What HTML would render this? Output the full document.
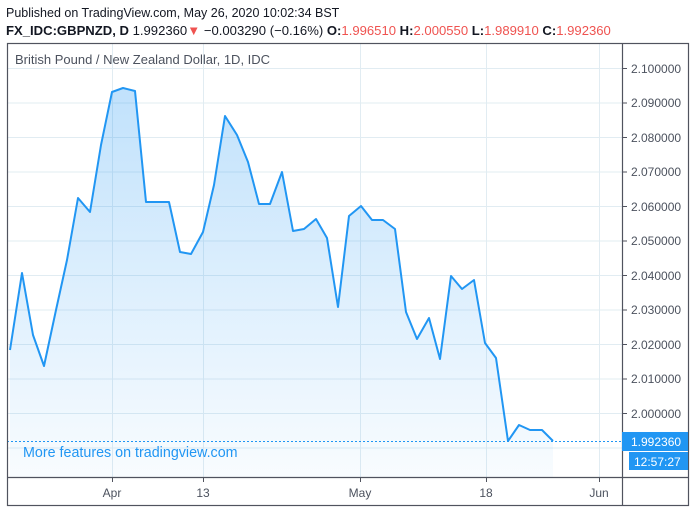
<!DOCTYPE html>
<html><head><meta charset="utf-8"><style>
body{margin:0;background:#fff;width:695px;height:513px;overflow:hidden}
svg text{font-family:"Liberation Sans",sans-serif}
</style></head><body>
<svg width="695" height="513" xmlns="http://www.w3.org/2000/svg">
<defs><linearGradient id="g" x1="0" y1="0" x2="0" y2="1"><stop offset="0" stop-color="#2196f3" stop-opacity="0.28"/><stop offset="1" stop-color="#2196f3" stop-opacity="0.03"/></linearGradient></defs>
<text x="6" y="17" font-size="12.5" fill="#131722">Published on TradingView.com, May 26, 2020 10:02:34 BST</text>
<text x="6" y="35" font-size="13.1" fill="#131722"><tspan font-weight="bold">FX_IDC:GBPNZD, D</tspan> 1.992360<tspan fill="#ef5350">▼</tspan> −0.003290 (−0.16%) <tspan font-weight="bold">O:</tspan><tspan fill="#ef5350">1.996510</tspan> <tspan font-weight="bold">H:</tspan><tspan fill="#ef5350">2.000550</tspan> <tspan font-weight="bold">L:</tspan><tspan fill="#ef5350">1.989910</tspan> <tspan font-weight="bold">C:</tspan><tspan fill="#ef5350">1.992360</tspan></text>
<g stroke="#e1ecf2" stroke-width="1">
<line x1="112.5" y1="43" x2="112.5" y2="477"/><line x1="203.5" y1="43" x2="203.5" y2="477"/><line x1="360.5" y1="43" x2="360.5" y2="477"/><line x1="486.5" y1="43" x2="486.5" y2="477"/><line x1="599.5" y1="43" x2="599.5" y2="477"/>
<line x1="7" y1="68.5" x2="622" y2="68.5"/><line x1="7" y1="103" x2="622" y2="103"/><line x1="7" y1="137.5" x2="622" y2="137.5"/><line x1="7" y1="172" x2="622" y2="172"/><line x1="7" y1="206.5" x2="622" y2="206.5"/><line x1="7" y1="241" x2="622" y2="241"/><line x1="7" y1="275.5" x2="622" y2="275.5"/><line x1="7" y1="310" x2="622" y2="310"/><line x1="7" y1="344.5" x2="622" y2="344.5"/><line x1="7" y1="379" x2="622" y2="379"/><line x1="7" y1="413.5" x2="622" y2="413.5"/><line x1="7" y1="448" x2="622" y2="448"/>
</g>
<polygon fill="url(#g)" points="10,350 22,273 33,335 44,366 56,310 67,260 78,198 90,212 101,145 112,92 123,88 135,91 146,202 157,202 169,202 180,252 191,254 203,232 214,185 225,116 237,135 248,162 259,204 270,204 282,172 293,231 304,229 316,219 327,238 338,307 349,216 361,206 372,220 383,220 395,229 406,312 417,339 429,318 440,359 451,276 462,289 474,280 485,343 496,358 508,441 519,425 530,430 542,430 553,441 553,477 10,477"/>
<polyline fill="none" stroke="#2196f3" stroke-width="2" stroke-linejoin="round" points="10,350 22,273 33,335 44,366 56,310 67,260 78,198 90,212 101,145 112,92 123,88 135,91 146,202 157,202 169,202 180,252 191,254 203,232 214,185 225,116 237,135 248,162 259,204 270,204 282,172 293,231 304,229 316,219 327,238 338,307 349,216 361,206 372,220 383,220 395,229 406,312 417,339 429,318 440,359 451,276 462,289 474,280 485,343 496,358 508,441 519,425 530,430 542,430 553,441"/>
<line x1="7" y1="441.5" x2="622" y2="441.5" stroke="#2196f3" stroke-width="1" stroke-dasharray="2,2"/>
<text x="15" y="64" font-size="13" fill="#4c525e">British Pound / New Zealand Dollar, 1D, IDC</text>
<text x="23" y="457" font-size="14.3" fill="#2196f3">More features on tradingview.com</text>
<rect x="7.5" y="43.5" width="681" height="462" fill="none" stroke="#50535e" stroke-width="1.2"/>
<line x1="622.5" y1="43" x2="622.5" y2="506" stroke="#50535e" stroke-width="1.2"/>
<line x1="7" y1="477.5" x2="688" y2="477.5" stroke="#50535e" stroke-width="1.2"/>
<g stroke="#50535e"><line x1="622" y1="68.5" x2="627" y2="68.5"/><line x1="622" y1="103" x2="627" y2="103"/><line x1="622" y1="137.5" x2="627" y2="137.5"/><line x1="622" y1="172" x2="627" y2="172"/><line x1="622" y1="206.5" x2="627" y2="206.5"/><line x1="622" y1="241" x2="627" y2="241"/><line x1="622" y1="275.5" x2="627" y2="275.5"/><line x1="622" y1="310" x2="627" y2="310"/><line x1="622" y1="344.5" x2="627" y2="344.5"/><line x1="622" y1="379" x2="627" y2="379"/><line x1="622" y1="413.5" x2="627" y2="413.5"/>
<line x1="112.5" y1="477" x2="112.5" y2="482"/><line x1="203.5" y1="477" x2="203.5" y2="482"/><line x1="360.5" y1="477" x2="360.5" y2="482"/><line x1="486.5" y1="477" x2="486.5" y2="482"/><line x1="599.5" y1="477" x2="599.5" y2="482"/></g>
<g font-size="12" fill="#4c525e">
<text x="631" y="73">2.100000</text><text x="631" y="107">2.090000</text><text x="631" y="142">2.080000</text><text x="631" y="176">2.070000</text><text x="631" y="211">2.060000</text><text x="631" y="245">2.050000</text><text x="631" y="280">2.040000</text><text x="631" y="314">2.030000</text><text x="631" y="349">2.020000</text><text x="631" y="383">2.010000</text><text x="631" y="418">2.000000</text>
<text x="112" y="497" text-anchor="middle">Apr</text><text x="203" y="497" text-anchor="middle">13</text><text x="360" y="497" text-anchor="middle">May</text><text x="486" y="497" text-anchor="middle">18</text><text x="599" y="497" text-anchor="middle">Jun</text>
</g>
<rect x="622" y="432" width="66" height="19" fill="#2196f3"/>
<text x="631" y="446" font-size="12" fill="#fff">1.992360</text>
<rect x="629" y="452" width="59" height="18" fill="#2196f3"/>
<text x="634" y="466" font-size="12" fill="#fff">12:57:27</text>
</svg>
</body></html>
